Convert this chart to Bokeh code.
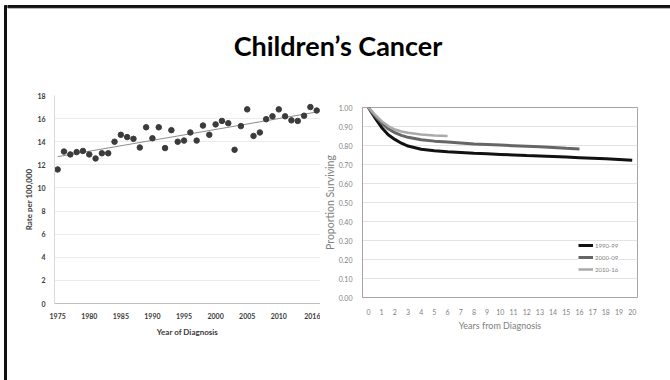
from bokeh.plotting import figure
from bokeh.layouts import row, column, Spacer
from bokeh.models import Range1d, FixedTicker, NumeralTickFormatter, Legend, LegendItem
from bokeh.core.properties import value
from bokeh.embed import file_html
from bokeh.resources import INLINE
import numpy as np

# ---------------- data ----------------
TITLE = "Children\u2019s Cancer"

years = list(range(1975, 2017))
rates = [11.6, 13.15, 12.9, 13.1, 13.2, 12.9, 12.55, 13.0, 13.0, 14.0,
         14.6, 14.4, 14.25, 13.5, 15.25, 14.3, 15.25, 13.45, 15.0, 14.0,
         14.1, 14.8, 14.1, 15.4, 14.6, 15.5, 15.8, 15.6, 13.3, 15.35,
         16.8, 14.5, 14.8, 15.95, 16.2, 16.8, 16.2, 15.85, 15.8, 16.25,
         17.0, 16.7]
year_ticks = [1975, 1980, 1985, 1990, 1995, 2000, 2005, 2010, 2016]
rate_ticks = [0, 2, 4, 6, 8, 10, 12, 14, 16, 18]

t_1990 = [0, 0.5, 1, 1.5, 2, 2.5, 3, 4, 5, 6, 7, 8, 9, 10, 11, 12, 13, 14, 15, 16, 17, 18, 19, 20]
s_1990 = [1.00, 0.945, 0.895, 0.857, 0.832, 0.812, 0.797, 0.780, 0.772, 0.767, 0.763, 0.759,
          0.756, 0.753, 0.750, 0.747, 0.745, 0.742, 0.739, 0.736, 0.733, 0.730, 0.726, 0.722]
t_2000 = [0, 0.5, 1, 1.5, 2, 2.5, 3, 4, 5, 6, 7, 8, 9, 10, 11, 12, 13, 14, 15, 16]
s_2000 = [1.00, 0.955, 0.918, 0.888, 0.868, 0.853, 0.843, 0.830, 0.823, 0.818, 0.813, 0.808,
          0.805, 0.802, 0.799, 0.796, 0.793, 0.789, 0.785, 0.782]
t_2010 = [0, 0.5, 1, 1.5, 2, 2.5, 3, 4, 5, 6]
s_2010 = [1.00, 0.962, 0.928, 0.902, 0.884, 0.874, 0.867, 0.858, 0.853, 0.850]
series_labels = ["1990-99", "2000-09", "2010-16"]
surv_x_ticks = list(range(0, 21))
surv_y_ticks = [i / 10 for i in range(11)]

FONT = "Lato"
INK = "#111111"
COMMON = dict(output_backend="svg", toolbar_location=None)


def bare(w, h, **kw):
    p = figure(width=w, height=h, min_border=0, x_axis_location=None,
               y_axis_location=None, outline_line_color=None, **COMMON, **kw)
    p.grid.visible = False
    return p


# ---------------- slide frame (window pixel coordinates) ----------------
strip_left = bare(7, 380, x_range=Range1d(0, 7), y_range=Range1d(380, 0))
strip_left.quad(left=[4], right=[6.5], top=[5], bottom=[379.5], color=INK)

strip_bottom = bare(663, 4, x_range=Range1d(7, 670), y_range=Range1d(380, 376))
strip_bottom.quad(left=[7], right=[670], top=[377.5], bottom=[379.5], color=INK)

hdr = bare(663, 88, x_range=Range1d(7, 670), y_range=Range1d(88, 0))
hdr.quad(left=[7], right=[670], top=[5], bottom=[7.3], color=INK)
hdr.text(x=[337.5], y=[45], text=[TITLE], text_font=value(FONT), text_font_style="bold",
         text_font_size="27px", text_align="center", text_baseline="middle", text_color="#000000")

# ---------------- left chart: incidence ----------------
lf = figure(width=313, height=288, x_range=Range1d(1974.5, 2016.6), y_range=Range1d(0, 18),
            min_border_left=47, min_border_right=0, min_border_top=7, min_border_bottom=73,
            outline_line_color=None, **COMMON)
lf.xgrid.visible = False
lf.ygrid.grid_line_color = "#ebebeb"
lf.ygrid.ticker = FixedTicker(ticks=rate_ticks)
lf.xaxis.ticker = FixedTicker(ticks=year_ticks)
lf.yaxis.ticker = FixedTicker(ticks=rate_ticks)
for ax in (lf.xaxis[0], lf.yaxis[0]):
    ax.major_tick_line_color = None
    ax.minor_tick_line_color = None
    ax.major_label_text_font = FONT
    ax.major_label_text_font_style = "bold"
    ax.major_label_text_font_size = "7px"
    ax.major_label_text_color = "#3a3a3a"
    ax.axis_label_text_font = FONT
    ax.axis_label_text_font_style = "bold"
    ax.axis_label_text_font_size = "8px"
    ax.axis_label_text_color = "#3a3a3a"
lf.xaxis.major_label_standoff = 3
lf.yaxis.major_label_standoff = 3
lf.xaxis.axis_line_color = "#bfbfbf"
lf.yaxis.axis_line_color = "#d9d9d9"
lf.xaxis.axis_label = "Year of Diagnosis"
lf.yaxis.axis_label = "Rate per 100,000"
lf.xaxis.axis_label_standoff = 5
lf.yaxis.axis_label_standoff = 0

slope, icpt = np.polyfit(years, rates, 1)
fit_x = [years[0], years[-1]]
fit_y = [slope * x + icpt for x in fit_x]
lf.line(fit_x, fit_y, line_color="#8c8c8c", line_width=1)
lf.scatter(years, rates, size=5.5, color="#3b3b3b")

# ---------------- right chart: survival ----------------
rf = figure(width=350, height=270, x_range=Range1d(-0.45, 20.4), y_range=Range1d(0, 1.0),
            min_border_left=40, min_border_right=33, min_border_top=7, min_border_bottom=73,
            outline_line_color="#a6a6a6", **COMMON)
rf.xgrid.visible = False
rf.ygrid.grid_line_color = "#e3e3e3"
rf.xaxis.ticker = FixedTicker(ticks=surv_x_ticks)
rf.yaxis.ticker = FixedTicker(ticks=surv_y_ticks)
rf.ygrid.ticker = FixedTicker(ticks=surv_y_ticks)
rf.yaxis.formatter = NumeralTickFormatter(format="0.00")
for ax in (rf.xaxis[0], rf.yaxis[0]):
    ax.major_tick_line_color = None
    ax.minor_tick_line_color = None
    ax.axis_line_color = "#a6a6a6"
    ax.major_label_text_font = FONT
    ax.major_label_text_font_size = "7px"
    ax.major_label_text_color = "#7f7f7f"
    ax.axis_label_text_font = FONT
    ax.axis_label_text_font_style = "normal"
    ax.axis_label_text_color = "#808080"
rf.xaxis.major_label_standoff = 5
rf.yaxis.major_label_standoff = 4
rf.xaxis.axis_label = "Years from Diagnosis"
rf.yaxis.axis_label = "Proportion Surviving"
rf.xaxis.axis_label_text_font_size = "9px"
rf.yaxis.axis_label_text_font_size = "10.5px"
rf.xaxis.axis_label_standoff = 2
rf.yaxis.axis_label_standoff = 0

r1 = rf.line(t_1990, s_1990, line_color=INK, line_width=3)
r2 = rf.line(t_2000, s_2000, line_color="#666666", line_width=3)
r3 = rf.line(t_2010, s_2010, line_color="#aaaaaa", line_width=2.5)

legend = Legend(items=[LegendItem(label=series_labels[0], renderers=[r1]),
                       LegendItem(label=series_labels[1], renderers=[r2]),
                       LegendItem(label=series_labels[2], renderers=[r3])],
                location=(216, 24), label_text_font=FONT, label_text_font_size="6px",
                label_text_color="#808080", glyph_width=15, glyph_height=8, label_height=8,
                label_standoff=2, spacing=4, padding=2, margin=0,
                border_line_color=None, background_fill_color="white")
rf.add_layout(legend)

right_col = column(Spacer(width=350, height=12), rf, Spacer(width=350, height=6))
root = row(strip_left, column(hdr, row(lf, right_col), strip_bottom))

open("out.html", "w").write(file_html(root, INLINE))
